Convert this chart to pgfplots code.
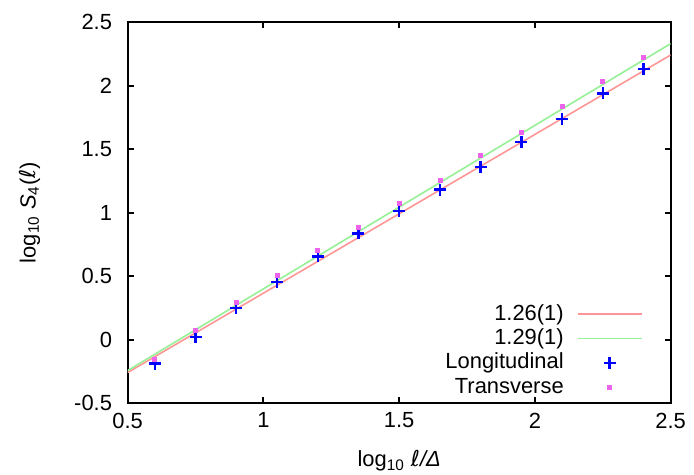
\documentclass[border=0pt]{standalone}
\usepackage{fontspec}
\setmainfont{Liberation Sans}
\newfontfamily\dejavu{DejaVu Sans}
\usepackage{pgfplots}
\pgfplotsset{compat=1.18}
\definecolor{fitred}{RGB}{255,150,150}
\definecolor{fitgreen}{RGB}{150,240,150}
\definecolor{ptmag}{RGB}{235,100,235}
\pgfplotsset{
  linelegend/.style={legend image code/.code={\draw[##1] (0bp,0bp) -- (32bp,0bp);}},
  marklegend/.style={legend image code/.code={\draw[##1, only marks] plot coordinates {(16bp,0bp)};}},
}
\begin{document}
\fontsize{11}{13}\selectfont
\begin{tikzpicture}
\useasboundingbox (-63.85bp,-36bp) rectangle (283.15bp,201.5bp);
\begin{axis}[
  at={(0,0)}, anchor=south west,
  scale only axis, width=271.5bp, height=190.5bp,
  xmin=0.5, xmax=2.5, ymin=-0.5, ymax=2.5,
  xtick={0.5,1,1.5,2,2.5}, xticklabels={0.5,1,1.5,2,2.5},
  ytick={-0.5,0,0.5,1,1.5,2,2.5}, yticklabels={-0.5,0,0.5,1,1.5,2,2.5},
  tick align=inside, major tick length=3bp,
  axis line style={line width=1bp},
  every tick/.style={black, line width=1bp},
  yticklabel style={xshift=-4bp},
  xticklabel style={yshift=-1bp},
  xlabel={log\textsubscript{10} {\dejavu\itshape ℓ}\textit{/Δ}},
  ylabel={log\textsubscript{10} \textit{S}\textsubscript{4}({\dejavu\itshape ℓ})},
  xlabel style={at={(rel axis cs:0.5,0)}, anchor=center, yshift=-29bp},
  ylabel style={at={(rel axis cs:0,0.5)}, anchor=center, yshift=49bp},
  legend plot pos=right,
  legend cell align=right,
  legend style={draw=none, fill=none, inner sep=0pt, column sep=6.5bp, row sep=0pt,
    at={(rel axis cs:1,0)}, anchor=south east, xshift=-14bp, yshift=1.5bp,
    nodes={inner sep=0pt, text height=9bp, text depth=3.2bp}},
]
\addplot[fitred, line width=0.8bp, linelegend]
  coordinates {(0.5,-0.26) (2.5,2.24)};
\addlegendentry{1.26(1)}
\addplot[fitgreen, line width=0.8bp, linelegend]
  coordinates {(0.5,-0.245) (2.5,2.33)};
\addlegendentry{1.29(1)}
\addplot[only marks, blue, mark=+, mark size=3bp, line width=1.2bp, marklegend]
  coordinates {(0.6,-0.19) (0.75,0.02) (0.9,0.25) (1.05,0.455) (1.2,0.655) (1.35,0.835)
    (1.5,1.01) (1.65,1.18) (1.8,1.36) (1.95,1.557) (2.1,1.735) (2.25,1.938) (2.4,2.13)};
\addlegendentry{Longitudinal}
\addplot[only marks, ptmag, mark=square*, mark size=1bp, marklegend]
  coordinates {(0.6,-0.155) (0.75,0.07) (0.9,0.29) (1.05,0.508) (1.2,0.70) (1.35,0.883)
    (1.5,1.07) (1.65,1.25) (1.8,1.45) (1.95,1.632) (2.1,1.833) (2.25,2.03) (2.4,2.22)};
\addlegendentry{Transverse}
\end{axis}
\end{tikzpicture}
\end{document}
